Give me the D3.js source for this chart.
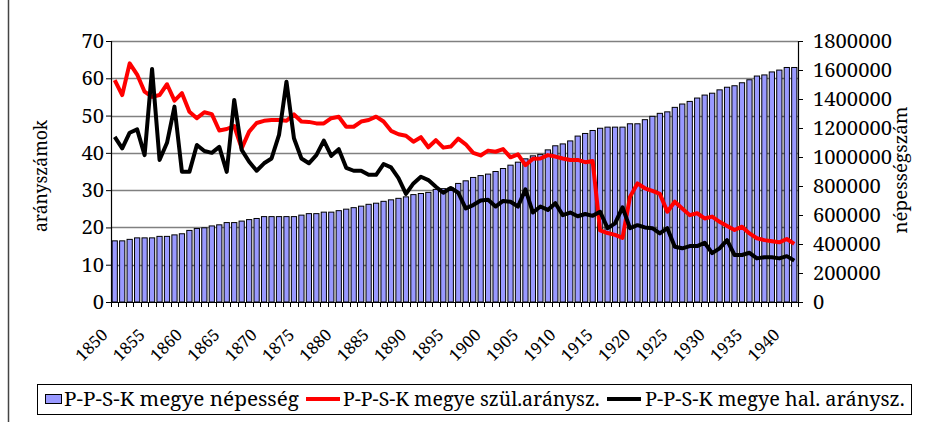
<!DOCTYPE html>
<html>
<head>
<meta charset="utf-8">
<script src="https://cdn.jsdelivr.net/npm/d3@7/dist/d3.min.js"></script>
<style>
  html, body { margin: 0; padding: 0; background: #fff; }
  svg { display: block; }
</style>
</head>
<body>
<svg id="chart" width="928" height="422"></svg>
<script>
// ---- DATA ----
const years = d3.range(1850, 1942);
const yearTickLabels = ["1850","1855","1860","1865","1870","1875","1880","1885","1890","1895","1900","1905","1910","1915","1920","1925","1930","1935","1940"];
const leftTicks = [0,10,20,30,40,50,60,70];
const rightTicks = [0,200000,400000,600000,800000,1000000,1200000,1400000,1600000,1800000];

const population = [421700,421700,432000,442300,442300,442300,452600,452600,462900,470600,
493700,506600,511700,524600,532300,547700,547700,558000,568300,576000,
588900,588900,588900,588900,588900,599100,609400,609400,619700,619700,
630000,640300,650600,660900,673700,681400,694300,704600,714900,725100,
740600,748300,756000,776600,781700,786900,817700,835700,858900,871700,
882000,900000,920600,943700,964300,987400,1008000,1018300,1049100,1077400,
1090300,1110900,1144300,1162300,1182900,1198300,1206000,1206000,1206000,1229100,
1229100,1257400,1280600,1301100,1311400,1342300,1365400,1383400,1406600,1427100,
1440000,1463100,1481100,1491400,1512000,1532600,1558300,1566000,1586600,1599400,
1617400,1617400];

const birthRate = [59.5,55.5,64,61,56.4,55,55.5,58.4,54,56,
51,49.3,50.9,50.4,46,46.4,47.2,41.2,45.7,48,
48.6,48.8,48.8,48.6,50.3,48.4,48.3,47.9,47.9,49.3,
49.7,47,47,48.4,48.8,49.7,48.4,45.9,45,44.6,
43,44.2,41.5,43.4,41.4,41.7,43.8,42.3,40,39.3,
40.6,40.3,41,38.8,39.6,36.7,38.4,38.5,39.4,39,
38.5,38.1,38.1,37.5,37.8,19.2,18.5,18,17.2,28.2,
31.8,30.5,29.8,29,24.2,26.9,25.1,23.3,23.8,22.4,
22.9,21.5,20.4,19.3,20.2,18.4,17.1,16.6,16.3,16,
16.9,15.6];

const deathRate = [44.3,41.2,45.4,46.3,39.4,62.5,38.1,42.7,52.4,34.9,
34.9,42.1,40.5,40,41.6,34.9,54.2,40.8,37.6,35.2,
37.2,38.5,44.8,59.1,43.9,38.5,37.2,39.4,43.3,39.2,
41,36,35.2,35.2,34.1,34.1,37,36.1,33.2,29,
31.8,33.6,32.7,30.9,29.3,30.6,29.3,25.1,26,27.2,
27.4,25.6,27.1,26.9,25.6,30.2,24,25.6,24.7,26.5,
23.3,24,23,23.6,23.1,24.2,19.8,21.1,25.4,19.8,
20.6,20,19.8,18.4,19.8,14.8,14.4,15,15,15.9,
13.1,14.4,16.6,12.6,12.6,13.2,11.7,12,12,11.7,
12.3,11.1];

const legendLabels = ["P-P-S-K megye népesség", "P-P-S-K megye szül.aránysz.", "P-P-S-K megye hal. aránysz."];
const leftTitle = "arányszámok";
const rightTitle = "népességszám";

// ---- LAYOUT ----
const FONT = "'Noto Serif', 'Liberation Serif', serif";
const svg = d3.select("#chart");
const plot = { left: 111, right: 798, top: 41, bottom: 302 };

const x = d3.scaleBand().domain(years).range([plot.left, plot.right]).paddingInner(0.3).paddingOuter(0.15);
const yL = d3.scaleLinear().domain([0, 70]).range([plot.bottom, plot.top]);
const yR = d3.scaleLinear().domain([0, 1800000]).range([plot.bottom, plot.top]);
const cx = d => x(d) + x.bandwidth() / 2;

function fit(sel, target, base) {
  sel.style("font-family", FONT).style("font-size", base + "px");
  const w = sel.node().getComputedTextLength();
  if (w > 0) sel.style("font-size", (base * target / w).toFixed(2) + "px");
  return sel;
}

// chart area border (left edge visible)
svg.append("line").attr("x1", 8.5).attr("x2", 8.5).attr("y1", 0).attr("y2", 422)
  .attr("stroke", "#444").attr("stroke-width", 1.5);

// gridlines
svg.append("g").selectAll("line").data(leftTicks.filter(d => d > 0)).join("line")
  .attr("x1", plot.left).attr("x2", plot.right)
  .attr("y1", d => Math.round(yL(d)) + 0.5).attr("y2", d => Math.round(yL(d)) + 0.5)
  .attr("stroke", "#808080").attr("stroke-width", 1.3);

// bars
svg.append("g").selectAll("rect").data(years).join("rect")
  .attr("x", d => x(d))
  .attr("width", x.bandwidth())
  .attr("y", (d, i) => yR(population[i]))
  .attr("height", (d, i) => plot.bottom - yR(population[i]))
  .attr("fill", "#9999ff").attr("stroke", "#000").attr("stroke-width", 1);

// lines
const line = arr => d3.line().x((d, i) => cx(years[i])).y(d => yL(d))(arr);
svg.append("path").attr("d", line(birthRate)).attr("fill", "none")
  .attr("stroke", "#ff0000").attr("stroke-width", 4).attr("stroke-linejoin", "round");
svg.append("path").attr("d", line(deathRate)).attr("fill", "none")
  .attr("stroke", "#000").attr("stroke-width", 4).attr("stroke-linejoin", "round");

// axes
const gL = svg.append("g").attr("transform", `translate(${plot.left},0)`)
  .call(d3.axisLeft(yL).tickValues(leftTicks).tickSize(5).tickPadding(2).tickFormat(d3.format("d")));
const gR = svg.append("g").attr("transform", `translate(${plot.right},0)`)
  .call(d3.axisRight(yR).tickValues(rightTicks).tickSize(5).tickPadding(10).tickFormat(d3.format("d")));
[gL, gR].forEach(g => {
  g.attr("font-family", null).attr("font-size", null);
  g.select(".domain").attr("stroke", "#000").attr("stroke-width", 1.2);
  g.selectAll(".tick line").attr("stroke", "#000");
  g.selectAll(".tick text").attr("fill", "#000").style("font-family", FONT).style("font-size", "19px");
});
{
  const t = gR.selectAll(".tick text").filter(d => d === 1800000);
  const w = t.node().getComputedTextLength();
  const fs = (19 * 79 / w).toFixed(2) + "px";
  gR.selectAll(".tick text").style("font-size", fs);
  gL.selectAll(".tick text").style("font-size", fs);
}

// x axis
svg.append("line").attr("x1", plot.left).attr("x2", plot.right)
  .attr("y1", plot.bottom + 0.5).attr("y2", plot.bottom + 0.5).attr("stroke", "#000").attr("stroke-width", 1.2);
const boundaries = years.map(d => x(d) - x.step() * x.paddingInner() / 2).concat([plot.right]);
svg.append("g").selectAll("line").data(boundaries).join("line")
  .attr("x1", d => Math.round(d) + 0.5).attr("x2", d => Math.round(d) + 0.5)
  .attr("y1", plot.bottom).attr("y2", plot.bottom + 5).attr("stroke", "#000");

const yl = svg.append("g").selectAll("text").data(yearTickLabels).join("text")
  .attr("transform", d => `translate(${cx(+d) - 6},336) rotate(-45)`)
  .attr("text-anchor", "end")
  .style("font-family", FONT)
  .text(d => d);
{
  const first = yl.filter((d, i) => i === 0);
  fit(first, 37, 16);
  yl.style("font-size", first.style("font-size"));
}

// axis titles
fit(svg.append("text").attr("transform", `translate(47,176) rotate(-90)`)
  .attr("text-anchor", "middle").text(leftTitle), 112, 19);
fit(svg.append("text").attr("transform", `translate(907,170) rotate(-90)`)
  .attr("text-anchor", "middle").text(rightTitle), 127, 19);

// legend
const lg = svg.append("g");
lg.append("rect").attr("x", 37.5).attr("y", 384.5).attr("width", 874).attr("height", 30)
  .attr("fill", "#fff").attr("stroke", "#000").attr("stroke-width", 1);
lg.append("rect").attr("x", 45.5).attr("y", 394.5).attr("width", 16).attr("height", 9)
  .attr("fill", "#9999ff").attr("stroke", "#000").attr("stroke-width", 1);
lg.append("line").attr("x1", 306).attr("x2", 340).attr("y1", 399).attr("y2", 399)
  .attr("stroke", "#ff0000").attr("stroke-width", 4);
lg.append("line").attr("x1", 607).attr("x2", 641).attr("y1", 399).attr("y2", 399)
  .attr("stroke", "#000").attr("stroke-width", 4);
const legendX = [64, 343, 645];
const legendW = [235, 257, 260];
lg.selectAll("text").data(legendLabels).join("text")
  .attr("x", (d, i) => legendX[i]).attr("y", 406)
  .text(d => d)
  .each(function(d, i) { fit(d3.select(this), legendW[i], 18); });
</script>
</body>
</html>
